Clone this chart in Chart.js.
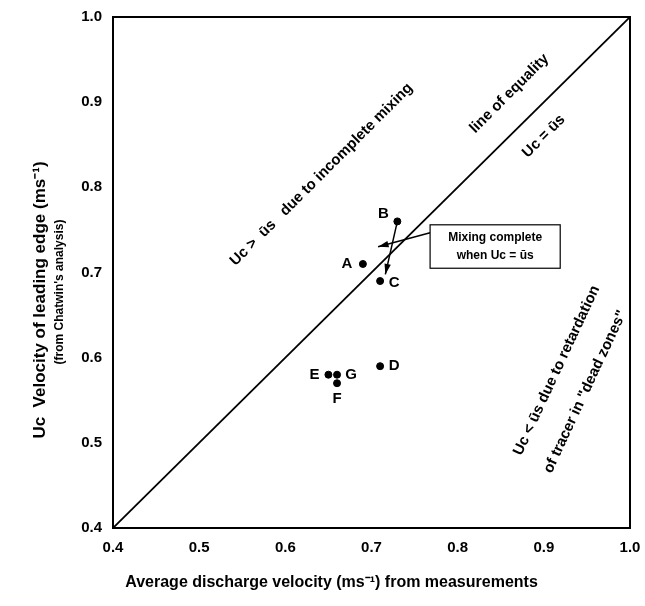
<!DOCTYPE html>
<html><head><meta charset="utf-8">
<script src="https://cdn.jsdelivr.net/npm/chart.js@4"></script>
<style>body{margin:0;background:#fff}#wrap{width:645px;height:606px}</style>
</head><body><div id="wrap"><canvas id="c"></canvas></div>
<script>
const pointNames = ['A', 'B', 'C', 'D', 'E', 'F', 'G'];
const meanVelocity = [0.69, 0.73, 0.71, 0.71, 0.65, 0.66, 0.66];
const edgeVelocity = [0.71, 0.76, 0.69, 0.59, 0.58, 0.57, 0.58];
const tickValues = [0.4, 0.5, 0.6, 0.7, 0.8, 0.9, 1.0];
const equalityLine = [0.4, 1.0];
// label offsets in px (dx, dy) for each point
const labelOffset = {A:[-16,0], B:[-14,-8], C:[14,2], D:[14,0], E:[-14,0], F:[0,16], G:[14,0]};

const FONT = 'bold 15px "Liberation Sans", Arial, sans-serif';

const extras = {
  id: 'extras',
  afterDraw(chart) {
    const {ctx, scales: {x, y}, chartArea: a} = chart;
    ctx.save();
    ctx.fillStyle = '#000'; ctx.strokeStyle = '#000';
    // frame
    ctx.lineWidth = 2;
    ctx.strokeRect(a.left, a.top, a.right - a.left, a.bottom - a.top);
    // point labels
    ctx.font = FONT; ctx.textAlign = 'center'; ctx.textBaseline = 'middle';
    pointNames.forEach((n, i) => {
      const o = labelOffset[n];
      ctx.fillText(n, x.getPixelForValue(meanVelocity[i]) + o[0], y.getPixelForValue(edgeVelocity[i]) + o[1]);
    });
    // arrows
    const arrow = (x0, y0, x1, y1) => {
      ctx.lineWidth = 1.5;
      ctx.beginPath(); ctx.moveTo(x0, y0); ctx.lineTo(x1, y1); ctx.stroke();
      const ang = Math.atan2(y1 - y0, x1 - x0);
      ctx.beginPath(); ctx.moveTo(x1, y1);
      ctx.lineTo(x1 - 11 * Math.cos(ang - 0.3), y1 - 11 * Math.sin(ang - 0.3));
      ctx.lineTo(x1 - 11 * Math.cos(ang + 0.3), y1 - 11 * Math.sin(ang + 0.3));
      ctx.closePath(); ctx.fill();
    };
    const bx = x.getPixelForValue(meanVelocity[1]), by = y.getPixelForValue(edgeVelocity[1]);
    arrow(bx, by, bx - 12, by + 53);
    const bl = x.getPixelForValue(0.768), bt = y.getPixelForValue(0.756), bb = y.getPixelForValue(0.705);
    arrow(bl, bt + 8, bl - 52, bt + 22);
    // box
    ctx.lineWidth = 1.2;
    ctx.fillStyle = '#fff';
    const br = x.getPixelForValue(0.919);
    ctx.fillRect(bl, bt, br - bl, bb - bt); ctx.strokeRect(bl, bt, br - bl, bb - bt);
    ctx.fillStyle = '#000';
    ctx.font = 'bold 12px "Liberation Sans", Arial, sans-serif';
    ctx.fillText('Mixing complete', (bl + br) / 2, bt + 13);
    ctx.fillText('when U\u1d04 = \u016bs', (bl + br) / 2, bt + 31);
    // rotated annotations
    const rot = (txt, vx, vy, deg, font) => {
      ctx.save();
      ctx.translate(x.getPixelForValue(vx), y.getPixelForValue(vy));
      ctx.rotate(deg * Math.PI / 180);
      ctx.font = font || FONT;
      ctx.fillText(txt, 0, 0);
      ctx.restore();
    };
    rot('U\u1d04 >  \u016bs   due to incomplete mixing', 0.642, 0.815, -45);
    rot('line of equality', 0.86, 0.91, -45);
    rot('U\u1d04 = \u016bs', 0.9, 0.86, -45);
    rot('U\u1d04 < \u016bs due to retardation', 0.915, 0.585, -65);
    rot('of tracer in "dead zones"', 0.948, 0.56, -65);
    // axis titles
    ctx.font = 'bold 16px "Liberation Sans", Arial, sans-serif';
    ctx.fillText('Average discharge velocity (ms\u207b\u00b9) from measurements', (a.left + a.right) / 2 - 40, 583);
    ctx.save();
    ctx.translate(40, 300); ctx.rotate(-Math.PI / 2);
    ctx.font = 'bold 17px "Liberation Sans", Arial, sans-serif';
    ctx.fillText('U\u1d04  Velocity of leading edge (ms\u207b\u00b9)', 0, 0);
    ctx.font = 'bold 12px "Liberation Sans", Arial, sans-serif';
    ctx.fillText("(from Chatwin's analysis)", 8, 20);
    ctx.restore();
    ctx.restore();
  }
};

new Chart(document.getElementById('c'), {
  type: 'scatter',
  data: {
    datasets: [
      {
        data: meanVelocity.map((v, i) => ({x: v, y: edgeVelocity[i]})),
        backgroundColor: '#000', borderColor: '#000', pointRadius: 3.5
      },
      {
        type: 'line',
        data: equalityLine.map(v => ({x: v, y: v})),
        borderColor: '#000', borderWidth: 1.8, pointRadius: 0, showLine: true
      }
    ]
  },
  options: {
    responsive: true, maintainAspectRatio: false, animation: false,
    layout: {padding: {top: 17, right: 15}},
    plugins: {legend: {display: false}, tooltip: {enabled: false}},
    scales: {
      x: {
        min: 0.4, max: 1.0,
        afterBuildTicks: s => { s.ticks = tickValues.map(v => ({value: v})); },
        afterFit: s => { s.height = 78; },
        grid: {display: false, drawTicks: true},
        border: {display: false},
        ticks: {color: '#000', font: {size: 15, weight: 'bold', family: 'Liberation Sans'}, callback: v => v.toFixed(1)}
      },
      y: {
        min: 0.4, max: 1.0,
        afterBuildTicks: s => { s.ticks = tickValues.map(v => ({value: v})); },
        afterFit: s => { s.width = 113; },
        grid: {display: false},
        border: {display: false},
        ticks: {color: '#000', font: {size: 15, weight: 'bold', family: 'Liberation Sans'}, callback: v => v.toFixed(1)}
      }
    }
  },
  plugins: [extras]
});
</script></body></html>
